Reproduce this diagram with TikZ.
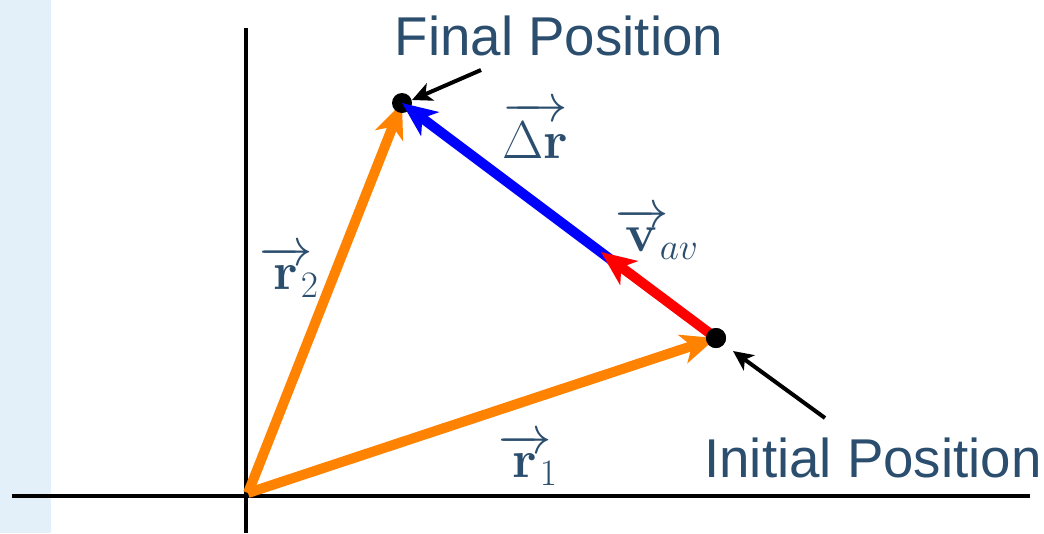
\RequirePackage{fix-cm}
\documentclass[tikz,border=0pt]{standalone}
\usepackage{amsmath}
\usepackage[no-math]{fontspec}
\setmainfont{Liberation Sans}
\usetikzlibrary{arrows.meta}
\definecolor{lbl}{HTML}{2C4E6E}
\definecolor{strip}{HTML}{E3F0F9}
\definecolor{org}{HTML}{FF8200}
\tikzset{
  axisline/.style={line width=3pt},
  vec/.style={line width=7.5pt, -{Stealth[length=26pt,width=22pt,inset=7pt]}},
  note/.style={line width=3pt, -{Stealth[length=15pt,width=14pt,inset=4pt]}},
  dotn/.style={circle, fill=black, inner sep=0pt, minimum size=15pt},
  poslbl/.style={text=lbl, font=\fontsize{41}{48}\selectfont, inner sep=0pt},
  mlbl/.style={text=lbl, font=\fontsize{40}{46}\selectfont, inner sep=0pt},
}
\begin{document}
\begin{tikzpicture}[x=0.75pt,y=-0.75pt]
\useasboundingbox (0,0) rectangle (1044,533);
\fill[white] (0,0) rectangle (1044,533);
\fill[strip] (0,0) rectangle (51,533);
% axes
\coordinate (xl) at (12,496);
\coordinate (xr) at (1030,496);
\coordinate (yt) at (246,28);
\coordinate (yb) at (246,533);
\draw[axisline] (xl) -- (xr);
\draw[axisline] (yt) -- (yb);
% points
\coordinate (O) at (248,493);
\coordinate (F) at (402,103);
\coordinate (I) at (716,338);
\coordinate (M) at (601,252);
\coordinate (Mb) at (614,262);
% orange vectors
\draw[vec, org] (O) -- (F);
\draw[vec, org] (O) -- (I);
% dots
\node[dotn] (Fd) at (F) {};
\node[dotn] (Id) at (I) {};
% delta r
\draw[vec, blue] (Mb) -- (F);
% v_av
\draw[vec, red] (I) -- (M);
\node[dotn] at (I) {};
% labels
\node[poslbl] (fp) at (559,36) {Final Position};
\node[poslbl] (ip) at (873,458) {Initial Position};
\coordinate (fa) at (481,70);
\coordinate (ia) at (825,418);
\draw[note] (fa) -- (412,100);
\draw[note] (ia) -- (733,351);
\node[mlbl] (dr) at (535,130) {$\overrightarrow{\Delta\mathbf{r}}$};
\node[mlbl] (va) at (657,234) {$\overrightarrow{\mathbf{v}}\mkern-3mu_{av}$};
\node[mlbl] (r2) at (289,272) {$\overrightarrow{\mathbf{r}}\mkern-4mu_{2}$};
\node[mlbl] (r1) at (528,460) {$\overrightarrow{\mathbf{r}}\mkern-4mu_{1}$};
\end{tikzpicture}
\end{document}
